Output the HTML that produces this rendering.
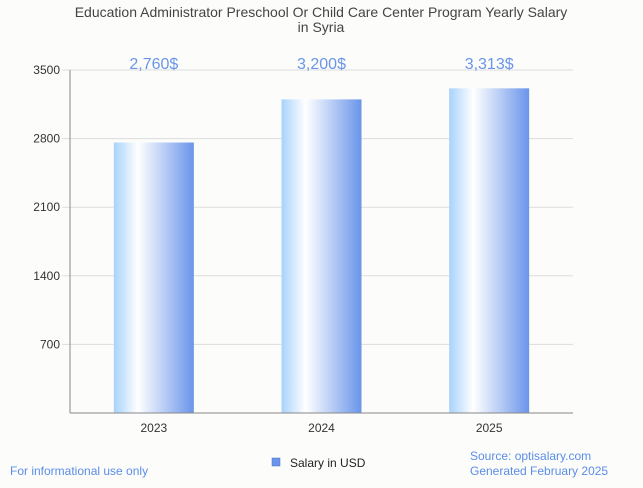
<!DOCTYPE html>
<html><head><meta charset="utf-8"><style>
body{margin:0;background:#fcfcfa;font-family:"Liberation Sans",sans-serif;}
</style></head><body>
<svg width="643" height="483" xmlns="http://www.w3.org/2000/svg">
<defs><linearGradient id="g" x1="0" x2="1" y1="0" y2="0">
<stop offset="0" stop-color="#a8d2fc"/><stop offset="0.3" stop-color="#ffffff"/><stop offset="1" stop-color="#6a95ea"/>
</linearGradient></defs>
<rect width="643" height="483" fill="#fcfcfa"/>
<text x="321" y="17" text-anchor="middle" font-size="14" fill="#444">Education Administrator Preschool Or Child Care Center Program Yearly Salary</text>
<text x="321" y="32" text-anchor="middle" font-size="14" fill="#444">in Syria</text>
<g id="grid"></g><g id="bars"></g>
<line x1="70" y1="70" x2="70" y2="413" stroke="#888"/>
<line x1="70" y1="413" x2="573" y2="413" stroke="#888"/>
<rect x="272" y="458" width="8" height="8" fill="#6a95ea" stroke="#4a70c0" stroke-width="0.5"/>
<text x="290" y="467" font-size="12" fill="#222">Salary in USD</text>
<text x="10" y="475" font-size="12" fill="#5b8de8">For informational use only</text>
<text x="470" y="460" font-size="12" fill="#5b8de8">Source: optisalary.com</text>
<text x="470" y="475" font-size="12" fill="#5b8de8">Generated February 2025</text>
</svg>
<script>
const categories=["2023","2024","2025"];
const values=[2760,3200,3313];
const valueLabels=["2,760$","3,200$","3,313$"];
const ticks=[700,1400,2100,2800,3500];
const NS="http://www.w3.org/2000/svg";
const y=v=>413-v*(343/3500);
const band=(573-70)/categories.length;
const x=i=>70+band*(i+0.5);
const grid=document.getElementById('grid'),bars=document.getElementById('bars');
function mk(t,a,p){const e=document.createElementNS(NS,t);for(const k in a)e.setAttribute(k,a[k]);p.appendChild(e);return e;}
ticks.forEach(t=>{
const l=mk('line',{x1:62,x2:573,y1:y(t),y2:y(t),stroke:'#ddd'},grid);


const tx=mk('text',{x:60,y:y(t)+4,'text-anchor':'end','font-size':12,fill:'#333'},grid);
tx.textContent=t;


});
categories.forEach((c,i)=>{
const r=mk('rect',{x:x(i)-40,y:y(values[i]),width:80,height:413-y(values[i]),fill:'url(#g)'},bars);


const v=mk('text',{x:x(i),y:69,'text-anchor':'middle','font-size':16,fill:'#6a95ea'},bars);
v.textContent=valueLabels[i];


const t=mk('text',{x:x(i),y:432,'text-anchor':'middle','font-size':12,fill:'#333'},bars);
t.textContent=c;


});
</script>
</body></html>
